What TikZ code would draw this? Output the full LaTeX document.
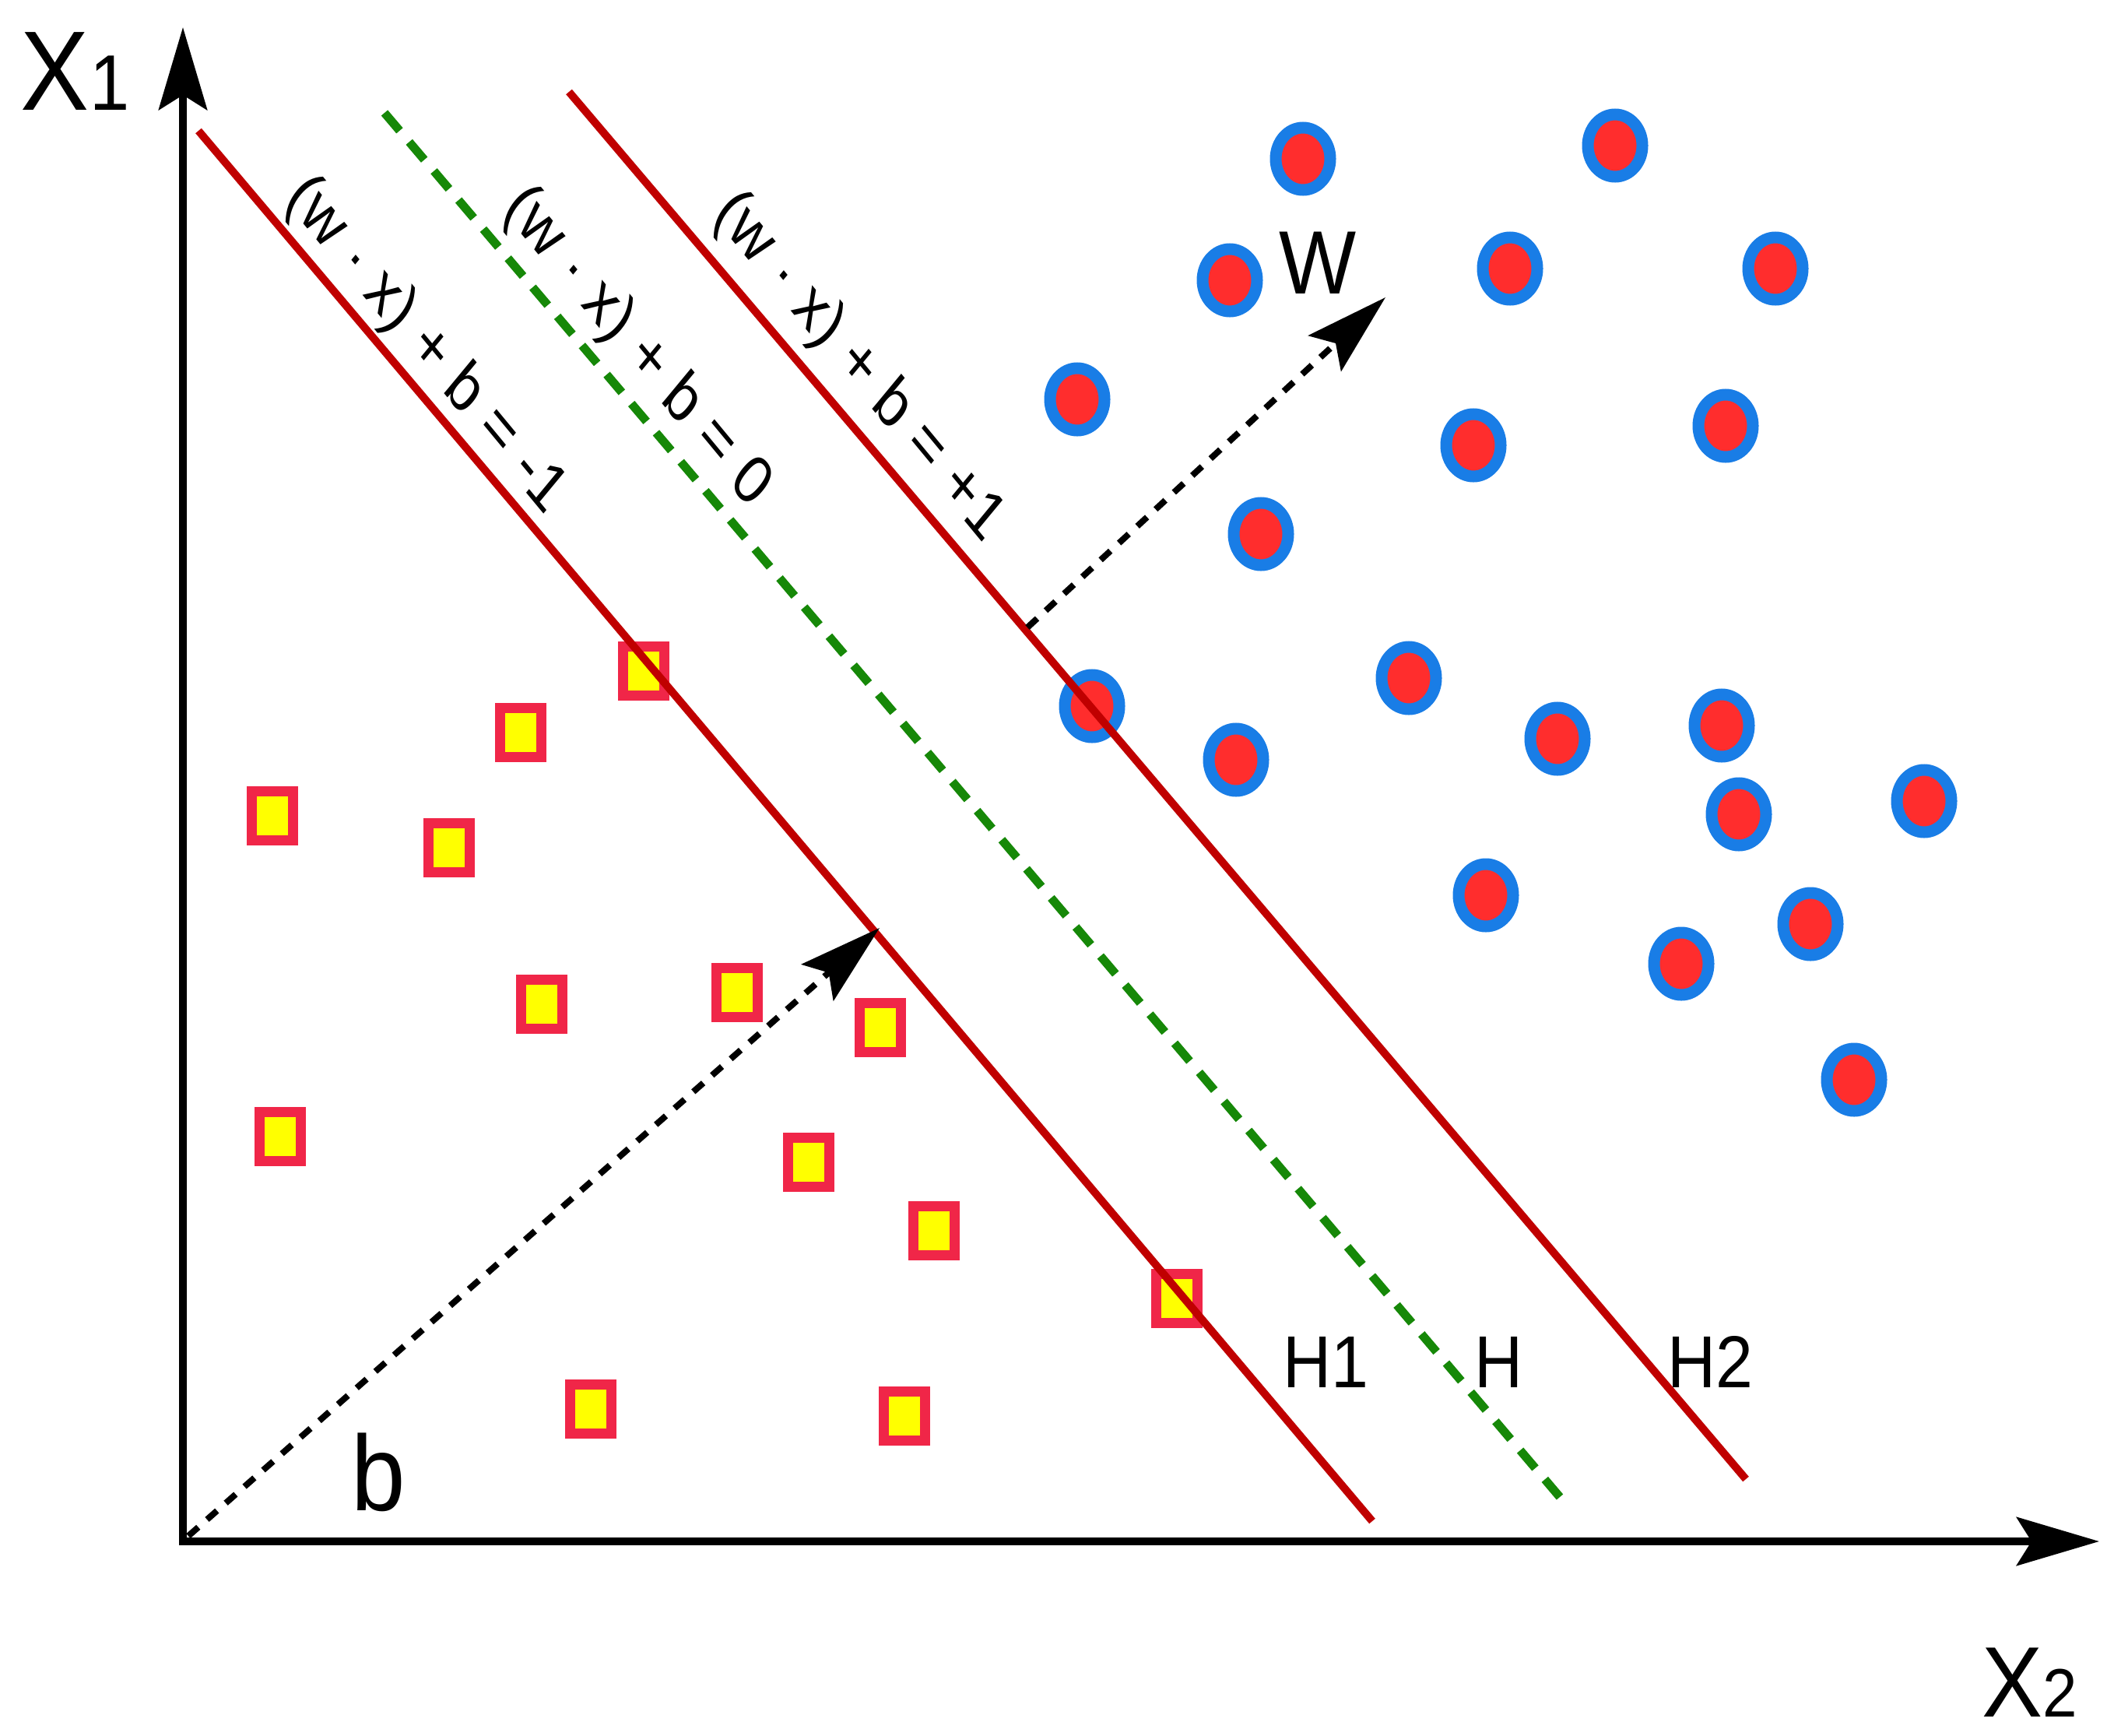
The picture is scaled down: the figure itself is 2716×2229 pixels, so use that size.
\documentclass[tikz,border=0pt]{standalone}
\usepackage{fontspec}
\setmainfont{Liberation Sans}
\usepackage{graphicx}
\usetikzlibrary{arrows.meta,shapes.geometric}
\definecolor{hred}{RGB}{192,0,0}
\definecolor{hgreen}{RGB}{22,136,8}
\definecolor{dotred}{RGB}{255,45,45}
\definecolor{dotblue}{RGB}{25,125,230}
\definecolor{sqred}{RGB}{240,38,72}
\definecolor{sqyellow}{RGB}{255,255,0}
\tikzset{
  bigtip/.tip={Stealth[length=106pt,width=62pt,inset=19pt]},
  axisline/.style={line width=10pt,black,line join=miter},
  margin/.style={line width=10pt,hred},
  middle/.style={line width=11pt,hgreen,dash pattern=on 30pt off 19pt},
  vecline/.style={line width=8pt,black,dash pattern=on 17pt off 15pt,-bigtip},
  posdot/.style={ellipse,draw=dotblue,fill=dotred,line width=15pt,minimum width=70pt,minimum height=80pt,inner sep=0pt},
  negsq/.style={rectangle,draw=sqred,fill=sqyellow,line width=13pt,minimum width=53pt,minimum height=63pt,inner sep=0pt},
  lab/.style={inner sep=0pt,outer sep=0pt,text=black}
}
\newcommand{\stretchy}[2]{\scalebox{1}[#1]{#2}}
\newcommand{\diaglabel}[1]{\scalebox{1}[1.21]{\rotatebox{-45}{\fontsize{73}{73}\selectfont #1}}}
\begin{document}
\begin{tikzpicture}[x=1pt,y=-1pt]
\useasboundingbox (0,0) rectangle (2716,2229);
\fill[white] (0,0) rectangle (2716,2229);

% named coordinates
\coordinate (O) at (235,1980);
\coordinate (Ytip) at (235,35);
\coordinate (Xtip) at (2697,1980);
\coordinate (H1a) at (255,168);
\coordinate (H1b) at (1763,1954);
\coordinate (Ha) at (494,145);
\coordinate (Hb) at (2004,1923);
\coordinate (H2a) at (731,118);
\coordinate (H2b) at (2243,1900);
\coordinate (bstart) at (242,1973);
\coordinate (btip) at (1130,1192);
\coordinate (wstart) at (1320,806);
\coordinate (wtip) at (1780,382);

% positive class (circles)
\node[posdot] (c1) at (1674,204) {};
\node[posdot] (c2) at (2075,187) {};
\node[posdot] (c3) at (1580,360) {};
\node[posdot] (c4) at (1940,345) {};
\node[posdot] (c5) at (2281,345) {};
\node[posdot] (c6) at (1384,513) {};
\node[posdot] (c7) at (1893,572) {};
\node[posdot] (c8) at (2217,547) {};
\node[posdot] (c9) at (1620,686) {};
\node[posdot] (c10) at (1810,871) {};
\node[posdot] (c11) at (1403,907) {};
\node[posdot] (c12) at (1588,976) {};
\node[posdot] (c13) at (2001,949) {};
\node[posdot] (c14) at (2212,932) {};
\node[posdot] (c15) at (2234,1046) {};
\node[posdot] (c16) at (2472,1029) {};
\node[posdot] (c17) at (1909,1150) {};
\node[posdot] (c18) at (2326,1187) {};
\node[posdot] (c19) at (2160,1238) {};
\node[posdot] (c20) at (2382,1387) {};

% negative class (squares)
\node[negsq] (s1) at (827,862) {};
\node[negsq] (s2) at (669,941) {};
\node[negsq] (s3) at (350,1048) {};
\node[negsq] (s4) at (577,1089) {};
\node[negsq] (s5) at (696,1290) {};
\node[negsq] (s6) at (947,1275) {};
\node[negsq] (s7) at (1131,1320) {};
\node[negsq] (s8) at (360,1460) {};
\node[negsq] (s9) at (1039,1493) {};
\node[negsq] (s10) at (1200,1581) {};
\node[negsq] (s11) at (1512,1668) {};
\node[negsq] (s12) at (759,1810) {};
\node[negsq] (s13) at (1162,1819) {};

% hyperplanes
\draw[margin] (H1a) -- (H1b);
\draw[middle] (Ha) -- (Hb);
\draw[margin] (H2a) -- (H2b);

% vectors
\draw[vecline] (bstart) -- (btip);
\draw[vecline] (wstart) -- (wtip);

% axes
\draw[axisline,{bigtip}-{bigtip}] (Ytip) -- (O) -- (Xtip);

% labels
\node[lab,anchor=base west] (x1lab) at (27,142) {\stretchy{1.1}{\fontsize{132}{132}\selectfont X\fontsize{92}{92}\selectfont 1}};
\node[lab,anchor=base west] (x2lab) at (2546,2205) {\stretchy{1.1}{\fontsize{117}{117}\selectfont X\fontsize{80}{80}\selectfont 2}};
\node[lab] (wlab) at (1693,338) {\stretchy{1.1}{\fontsize{105}{105}\selectfont W}};
\node[lab,anchor=base west] (blab) at (451,1940) {\stretchy{1.1}{\fontsize{125}{125}\selectfont b}};
\node[lab,anchor=base west] (h1lab) at (1648,1782) {\stretchy{1.1}{\fontsize{86}{86}\selectfont H1}};
\node[lab,anchor=base west] (hlab) at (1894,1782) {\stretchy{1.1}{\fontsize{86}{86}\selectfont H}};
\node[lab,anchor=base west] (h2lab) at (2142,1782) {\stretchy{1.1}{\fontsize{86}{86}\selectfont H2}};

\node[lab,anchor=north west] (eqm) at (355,212) {\diaglabel{(w · x) + b = -1}};
\node[lab,anchor=north west] (eq0) at (635,225) {\diaglabel{(w · x) + b = 0}};
\node[lab,anchor=north west] (eqp) at (905,232) {\diaglabel{(w · x) + b = +1}};
\end{tikzpicture}
\end{document}
